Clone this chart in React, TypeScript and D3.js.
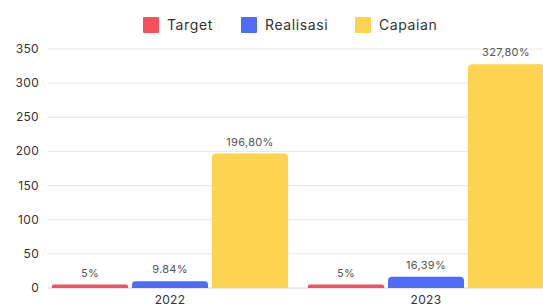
import * as d3 from "d3"
import React from "react"

const years = ["2022", "2023"]
const seriesNames = ["Target", "Realisasi", "Capaian"]
const seriesColors = ["#f4515c", "#4f6cf6", "#fdd450"]
const target = [5, 5]
const realisasi = [9.84, 16.39]
const capaian = [196.8, 327.8]
const valueLabels = [
  ["5%", "9.84%", "196,80%"],
  ["5%", "16,39%", "327,80%"],
]
const yTicks = [0, 50, 100, 150, 200, 250, 300, 350]

const W = 543
const H = 307
const FONT = "Inter, 'Noto Sans', sans-serif"

// rounded-top bar path
const barPath = (x: number, y: number, w: number, h: number, r: number) => {
  const rr = Math.min(r, h / 2, w / 2)
  return `M${x},${y + h}V${y + rr}Q${x},${y} ${x + rr},${y}H${x + w - rr}Q${x + w},${y} ${x + w},${y + rr}V${y + h}Z`
}

export default function App() {
  const left = 42
  const plotW = 512
  const yScale = d3.scaleLinear().domain([0, 350]).range([288, 49])
  const x0 = d3.scaleBand().domain(years).range([left, left + plotW]).paddingInner(0).paddingOuter(0)
  const x1 = d3.scaleBand().domain(seriesNames).range([10, x0.bandwidth() - 10]).paddingInner(0.05).paddingOuter(0)
  const series = [target, realisasi, capaian]

  const legendX = [143, 241, 355]

  return (
    <svg width={W} height={H} style={{ position: "absolute", left: 0, top: 0, background: "#fff" }}>
      {/* grid */}
      {yTicks.map((t) => (
        <g key={t}>
          <line x1={48} x2={W} y1={yScale(t)} y2={yScale(t)} stroke={t === 0 ? "#d4d4d4" : "#e8e8e8"} strokeWidth={1} />
          <text x={39} y={yScale(t) + 4} textAnchor="end" fontFamily={FONT} fontSize={12} fill="#333" letterSpacing={0.3}>{t}</text>
        </g>
      ))}

      {/* bars */}
      {years.map((yr, i) => (
        <g key={yr} transform={`translate(${x0(yr)},0)`}>
          {seriesNames.map((s, j) => {
            const v = series[j][i]
            const bx = x1(s) as number
            const by = yScale(v)
            const bw = x1.bandwidth()
            return (
              <g key={s}>
                <path d={barPath(bx, by, bw, yScale(0) - by, 4)} fill={seriesColors[j]} />
                <text x={bx + bw / 2} y={by - 8} textAnchor="middle" fontFamily={FONT} fontSize={11} fill="#555" letterSpacing={0.3}>
                  {valueLabels[i][j]}
                </text>
              </g>
            )
          })}
          <text x={x0.bandwidth() / 2} y={304} textAnchor="middle" fontFamily={FONT} fontSize={12} fill="#333" letterSpacing={0.3}>{yr}</text>
        </g>
      ))}

      {/* legend */}
      {seriesNames.map((name, i) => (
        <g key={name} transform={`translate(${legendX[i]},17)`}>
          <rect x={0} y={0} width={16} height={16} rx={1} fill={seriesColors[i]} />
          <text x={24} y={13} fontFamily={FONT} fontSize={14} fill="#333" letterSpacing={0.6}>{name}</text>
        </g>
      ))}
    </svg>
  )
}
